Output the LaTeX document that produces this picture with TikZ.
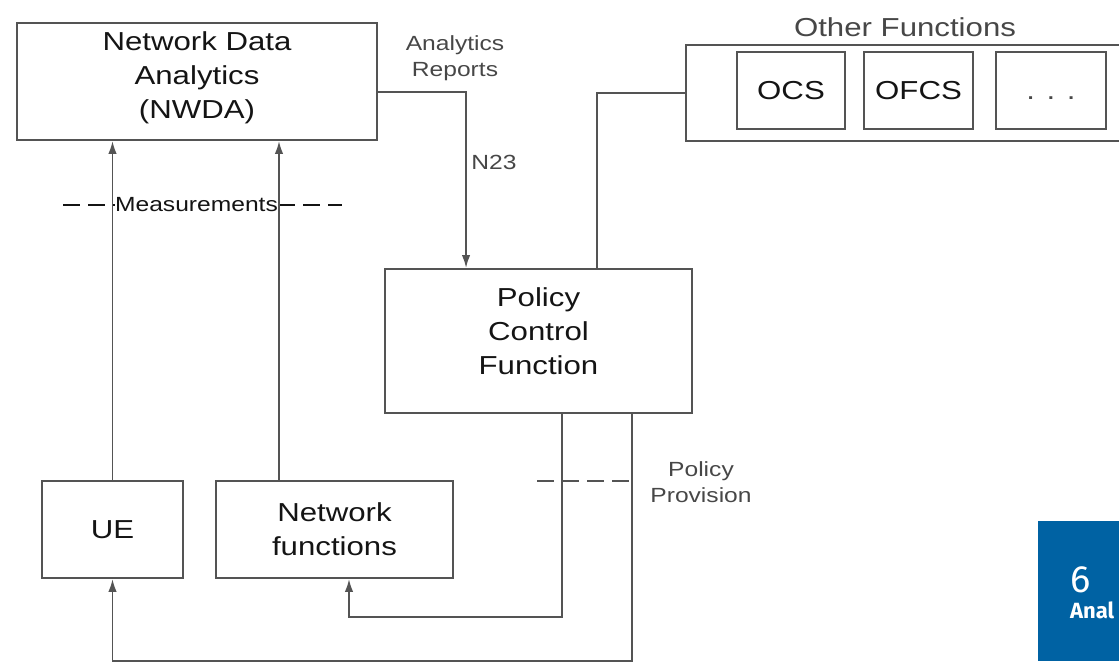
\documentclass[tikz,border=0pt]{standalone}
\usepackage{fontspec}
\setmainfont{Liberation Sans}[FakeStretch=1.2]
\newfontfamily\pagefont{Fira Sans}
\usetikzlibrary{arrows.meta}
\definecolor{wire}{gray}{0.33}
\definecolor{ink}{gray}{0.08}
\definecolor{notegray}{gray}{0.28}
\definecolor{pageblue}{RGB}{0,98,163}

\begin{document}
\begin{tikzpicture}[x=1pt,y=-1pt,
  box/.style={draw=wire,line width=1.9pt,inner sep=0pt},
  big/.style={font=\fontsize{26}{34}\selectfont,text=ink,align=center},
  note/.style={font=\fontsize{20.5}{26}\selectfont,text=notegray,align=center},
  wireline/.style={draw=wire,line width=1.9pt},
  arr/.style={wireline,-{Latex[length=13pt,width=8.5pt]}},
  dashline/.style={wireline,dash pattern=on 17pt off 8pt}]
\useasboundingbox (0,0) rectangle (1119,663);
\clip (0,0) rectangle (1119,663);
\node[box,minimum width=360pt,minimum height=117pt,
  label={[big,yshift=4pt]center:{Network Data\\Analytics\\(NWDA)}}] (nwda) at (197,81.5) {};
\node[box,minimum width=307pt,minimum height=144pt,
  label={[big,yshift=10pt]center:{Policy\\Control\\Function}}] (pcf) at (538.5,341) {};
\node[box,big,minimum width=141pt,minimum height=97pt] (ue) at (112.5,529.5) {UE};
\node[box,big,minimum width=237pt,minimum height=97pt] (nf) at (334.5,529.5) {Network\\functions};
\node[box,minimum width=460pt,minimum height=96pt] (other) at (916,93) {};
\node[big,text=notegray] (otherlbl) at (905,27) {Other Functions};
\node[box,big,minimum width=108pt,minimum height=77pt] (ocs) at (791,90.5) {OCS};
\node[box,big,minimum width=109pt,minimum height=77pt] (ofcs) at (918.5,90.5) {OFCS};
\node[box,big,text=notegray,text height=19pt,text depth=0pt,
  minimum width=110pt,minimum height=77pt] (more) at (1051,90.5) {. . .};
\node[note,text=ink,inner xsep=0pt] (meas) at (196.5,205) {Measurements};
\draw[dashline,draw=ink,line width=2.3pt] (63,205) -- (meas.west);
\draw[dashline,draw=ink,line width=2.3pt] (meas.east) -- (342,205);
\draw[dashline,line width=1.4pt] (537,481) -- (633,481);
\node[note] (prov) at (701,482) {Policy\\Provision};
\node[note] (reports) at (455,58) {Analytics\\Reports};
\node[note] (n23) at (494,162) {N23};
\draw[arr] ([yshift=-10.5pt]nwda.east) -| ([xshift=82pt]pcf.north west);
\draw[wireline] ([xshift=-96pt]pcf.north east) |- (other.west);
\draw[arr] (ue.north) -- (ue.north |- nwda.south);
\draw[arr] ([xshift=-55.5pt]nf.north) -- ([xshift=-55.5pt]nf.north |- nwda.south);
\draw[arr] ([xshift=23.5pt]pcf.south) |- ([xshift=14.5pt,yshift=-38pt]nf.south) -- ([xshift=14.5pt]nf.south);
\draw[arr] ([xshift=93.5pt]pcf.south) |- ([yshift=-82pt]ue.south) -- (ue.south);
\fill[pageblue] (1038,521) rectangle (1130,661);
\node[text=white,font=\pagefont\fontsize{38}{38}\selectfont,anchor=base west,inner sep=0pt] (chap) at (1070,592) {6};
\node[text=white,font=\pagefont\bfseries\fontsize{22}{22}\selectfont,anchor=base west,inner sep=0pt] (chapname) at (1070,618) {Anal};
\end{tikzpicture}
\end{document}
